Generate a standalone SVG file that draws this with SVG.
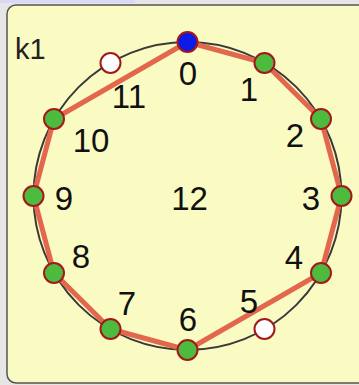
<svg xmlns="http://www.w3.org/2000/svg" width="359" height="385" viewBox="0 0 359 385">
<style>
.lbl{font-family:"Liberation Sans",Arial,sans-serif;font-size:33px;fill:#111;text-anchor:middle}
.nd{stroke:#a3191b;stroke-width:2}
.g{fill:#4dbb3d}
.w{fill:#ffffff}
.b{fill:#0c1be6}
</style>
<rect x="0" y="0" width="359" height="385" fill="#e6e6e6"/>
<rect x="0" y="0" width="135" height="3" fill="#d9d8f5"/>
<rect x="7" y="5" width="370" height="378" rx="9" fill="#fafbc3" stroke="#555" stroke-width="1.5"/>
<text x="15" y="59" style="font-family:'Liberation Sans',Arial,sans-serif;font-size:29px;fill:#222">k1</text>
<g id="connectors">
<circle cx="187.5" cy="196" r="154" fill="none" stroke="#3a3a3a" stroke-width="2"/>
<polyline points="187.5,42 264.5,63 321,119 341.5,196 321,273 187.5,350 110.5,329 54,273 33.5,196 54,119 187.5,42" fill="none" stroke="#e2674d" stroke-width="5" stroke-linejoin="round"/>
</g>
<g id="n0"><circle class="nd b" cx="187.5" cy="42" r="10"/><text class="lbl" x="188" y="85">0</text></g>
<g id="n1"><circle class="nd g" cx="264.5" cy="63" r="10"/><text class="lbl" x="249" y="101">1</text></g>
<g id="n2"><circle class="nd g" cx="321" cy="119" r="10"/><text class="lbl" x="295" y="147">2</text></g>
<g id="n3"><circle class="nd g" cx="341.5" cy="196" r="10"/><text class="lbl" x="311" y="210">3</text></g>
<g id="n4"><circle class="nd g" cx="321" cy="273" r="10"/><text class="lbl" x="294" y="269">4</text></g>
<g id="n5"><circle class="nd w" cx="264.5" cy="329" r="10"/><text class="lbl" x="249" y="313">5</text></g>
<g id="n6"><circle class="nd g" cx="187.5" cy="350" r="10"/><text class="lbl" x="188" y="331">6</text></g>
<g id="n7"><circle class="nd g" cx="110.5" cy="329" r="10"/><text class="lbl" x="127" y="315">7</text></g>
<g id="n8"><circle class="nd g" cx="54" cy="273" r="10"/><text class="lbl" x="81" y="268">8</text></g>
<g id="n9"><circle class="nd g" cx="33.5" cy="196" r="10"/><text class="lbl" x="64" y="210">9</text></g>
<g id="n10"><circle class="nd g" cx="54" cy="119" r="10"/><text class="lbl" x="91" y="152">10</text></g>
<g id="n11"><circle class="nd w" cx="110.5" cy="63" r="10"/><text class="lbl" x="129" y="108">11</text></g>
<g id="n12"><text class="lbl" x="189.5" y="210">12</text></g>
</svg>
